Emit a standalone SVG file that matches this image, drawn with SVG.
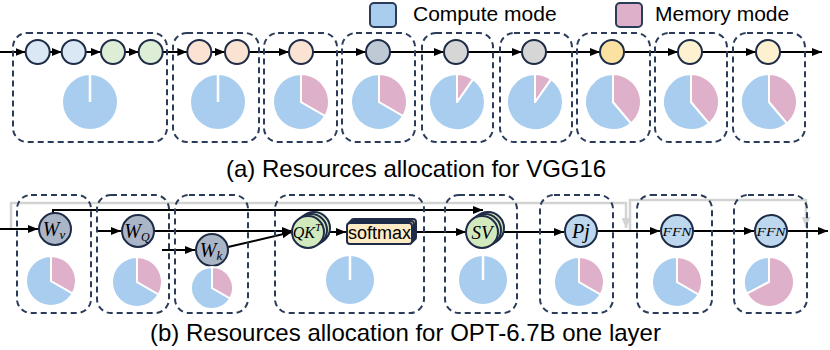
<svg xmlns="http://www.w3.org/2000/svg" xmlns:xlink="http://www.w3.org/1999/xlink" width="830" height="350" viewBox="0 0 830 350">
<style>
.box{fill:none;stroke:#2b3c5a;stroke-width:2;stroke-dasharray:6 4}
.node{stroke:#1e2c47;stroke-width:2}
.ln{fill:none;stroke:#000;stroke-width:2}
.gl{fill:none;stroke:#d3d3d3;stroke-width:2.5}
.pb{fill:#a8cdef;stroke:#fff;stroke-width:2;stroke-linejoin:round}
.pp{fill:#dfb0ca;stroke:#fff;stroke-width:2;stroke-linejoin:round}
.sans{font-family:"Liberation Sans",Arial,sans-serif}
.cap{font-size:24px}
.leg{font-size:21px}
.math{font-family:"Liberation Serif","Times New Roman",serif;font-style:italic}
.c1{fill:#dae7f5}.c2{fill:#deedd6}.c3{fill:#fae3d3}.c4{fill:#bfc9d6}.c5{fill:#d6d6d6}.c6{fill:#fbe2a0}.c7{fill:#fdf1cf}
.cw{fill:#aab5c7}.cb{fill:#bdd7ef}.cg{fill:#d2e8bd}.cy{fill:#fdebc6}
</style>
<defs>
<marker id="ah" markerUnits="userSpaceOnUse" markerWidth="10" markerHeight="8" refX="10" refY="4" orient="auto"><path d="M0,0 L10,4 L0,8 Z" fill="#000"/></marker>
<marker id="ahg" markerUnits="userSpaceOnUse" markerWidth="10" markerHeight="9" refX="10" refY="4.5" orient="auto"><path d="M0,0 L10,4.5 L0,9 Z" fill="#d3d3d3"/></marker>
<g id="pF28"><circle r="28" class="pb"/><line x1="0" y1="0" x2="0" y2="-28" stroke="#fff" stroke-width="2.5"/></g>
<g id="p120_28"><path class="pb" d="M0,0 L24.25,14 A28,28 0 1,1 0,-28 Z"/><path class="pp" d="M0,0 L0,-28 A28,28 0 0,1 24.25,14 Z"/></g>
<g id="p35_28"><path class="pb" d="M0,0 L16.06,-22.94 A28,28 0 1,1 0,-28 Z"/><path class="pp" d="M0,0 L0,-28 A28,28 0 0,1 16.06,-22.94 Z"/></g>
<g id="p140_28"><path class="pb" d="M0,0 L18,21.45 A28,28 0 1,1 0,-28 Z"/><path class="pp" d="M0,0 L0,-28 A28,28 0 0,1 18,21.45 Z"/></g>
<g id="pF25"><circle r="25" class="pb"/><line x1="0" y1="0" x2="0" y2="-25" stroke="#fff" stroke-width="2.5"/></g>
<g id="p120_25"><path class="pb" d="M0,0 L21.65,12.5 A25,25 0 1,1 0,-25 Z"/><path class="pp" d="M0,0 L0,-25 A25,25 0 0,1 21.65,12.5 Z"/></g>
<g id="p120_21"><path class="pb" d="M0,0 L18.19,10.5 A21,21 0 1,1 0,-21 Z"/><path class="pp" d="M0,0 L0,-21 A21,21 0 0,1 18.19,10.5 Z"/></g>
<g id="p242_25"><path class="pb" d="M0,0 L-22.07,11.73 A25,25 0 0,1 0,-25 Z"/><path class="pp" d="M0,0 L0,-25 A25,25 0 1,1 -22.07,11.73 Z"/></g>
</defs>

<!-- legend -->
<g id="legend">
<rect x="370" y="3" width="26" height="24" rx="4" fill="#a8cdef" stroke="#2b3c5a" stroke-width="2"/>
<text x="413" y="21" class="sans leg">Compute mode</text>
<rect x="616" y="3" width="26" height="24" rx="4" fill="#dfb0ca" stroke="#2b3c5a" stroke-width="2"/>
<text x="655" y="21" class="sans leg">Memory mode</text>
</g>

<!-- gray residual lines (b) -->
<g id="residuals">
<path class="gl" d="M11,228 L11,203 L626,203 L626,228" marker-end="url(#ahg)"/>
<path class="gl" d="M630,231 L630,200 L806,200 L806,227" marker-end="url(#ahg)"/>
</g>

<!-- connectors -->
<g id="connectors">
<!-- (a) -->
<path class="ln" d="M0,52 L25.5,52" marker-end="url(#ah)"/>
<path class="ln" d="M49.7,52 L61.7,52" marker-end="url(#ah)"/>
<path class="ln" d="M85.7,52 L101,52" marker-end="url(#ah)"/>
<path class="ln" d="M125,52 L138.7,52" marker-end="url(#ah)"/>
<path class="ln" d="M162.7,52 L187.3,52" marker-end="url(#ah)"/>
<path class="ln" d="M211.3,52 L225,52" marker-end="url(#ah)"/>
<path class="ln" d="M249,52 L289,52" marker-end="url(#ah)"/>
<path class="ln" d="M313,52 L366,52" marker-end="url(#ah)"/>
<path class="ln" d="M390,52 L444,52" marker-end="url(#ah)"/>
<path class="ln" d="M468,52 L522,52" marker-end="url(#ah)"/>
<path class="ln" d="M546,52 L600,52" marker-end="url(#ah)"/>
<path class="ln" d="M624,52 L678,52" marker-end="url(#ah)"/>
<path class="ln" d="M702,52 L756,52" marker-end="url(#ah)"/>
<path class="ln" d="M780,52 L822,52" marker-end="url(#ah)"/>
<!-- (b) -->
<path class="ln" d="M0,229 L38,229" marker-end="url(#ah)"/>
<path class="ln" d="M53,214 L53,210 L483,210" marker-end="url(#ah)"/>
<path class="ln" d="M97,231 L121,231" marker-end="url(#ah)"/>
<path class="ln" d="M154,231 L292,231" marker-end="url(#ah)"/>
<path class="ln" d="M162,250 L195,250" marker-end="url(#ah)"/>
<path class="ln" d="M228,247 L292,232" marker-end="url(#ah)"/>
<path class="ln" d="M330,232 L346,232" marker-end="url(#ah)"/>
<path class="ln" d="M416,232 L466,232" marker-end="url(#ah)"/>
<path class="ln" d="M504,232 L564,232" marker-end="url(#ah)"/>
<path class="ln" d="M597,231 L660,231" marker-end="url(#ah)"/>
<path class="ln" d="M693,231 L754,231" marker-end="url(#ah)"/>
<path class="ln" d="M787,231 L828,231" marker-end="url(#ah)"/>
</g>

<!-- (a) VGG16 -->
<g id="a1"><rect class="box" x="13" y="33" width="154" height="109" rx="14"/>
<circle class="node c1" cx="37.7" cy="52" r="12"/><circle class="node c1" cx="73.7" cy="52" r="12"/>
<circle class="node c2" cx="113" cy="52" r="12"/><circle class="node c2" cx="150.7" cy="52" r="12"/>
<use xlink:href="#pF28" x="90" y="102"/></g>
<g id="a2"><rect class="box" x="173" y="33" width="86" height="109" rx="14"/>
<circle class="node c3" cx="199.3" cy="52" r="12"/><circle class="node c3" cx="237" cy="52" r="12"/>
<use xlink:href="#pF28" x="218" y="102"/></g>
<g id="a3"><rect class="box" x="264" y="33" width="73" height="109" rx="14"/>
<circle class="node c3" cx="301" cy="52" r="12"/><use xlink:href="#p120_28" x="301" y="102"/></g>
<g id="a4"><rect class="box" x="342" y="33" width="73" height="109" rx="14"/>
<circle class="node c4" cx="378" cy="52" r="12"/><use xlink:href="#p120_28" x="379" y="102"/></g>
<g id="a5"><rect class="box" x="422" y="33" width="71" height="109" rx="14"/>
<circle class="node c5" cx="456" cy="52" r="12"/><use xlink:href="#p35_28" x="457" y="102"/></g>
<g id="a6"><rect class="box" x="500" y="33" width="72" height="109" rx="14"/>
<circle class="node c5" cx="534" cy="52" r="12"/><use xlink:href="#p35_28" x="535" y="102"/></g>
<g id="a7"><rect class="box" x="577" y="33" width="73" height="109" rx="14"/>
<circle class="node c6" cx="612" cy="52" r="12"/><use xlink:href="#p140_28" x="613" y="102"/></g>
<g id="a8"><rect class="box" x="655" y="33" width="72" height="109" rx="14"/>
<circle class="node c7" cx="690" cy="52" r="12"/><use xlink:href="#p140_28" x="691" y="102"/></g>
<g id="a9"><rect class="box" x="733" y="33" width="72" height="109" rx="14"/>
<circle class="node c7" cx="768" cy="52" r="12"/><use xlink:href="#p140_28" x="769" y="102"/></g>
<text id="capA" x="226" y="177" class="sans cap">(a) Resources allocation for VGG16</text>

<!-- (b) OPT -->
<g id="b1"><rect class="box" x="17" y="195" width="74" height="118" rx="14"/>
<circle class="node cw" cx="55" cy="229" r="16"/>
<text x="54" y="236" class="math" font-size="20" text-anchor="middle">W<tspan font-size="13" dy="3">v</tspan></text>
<use xlink:href="#p120_25" x="51" y="281"/></g>
<g id="b2"><rect class="box" x="97" y="195" width="72" height="118" rx="14"/>
<circle class="node cw" cx="138" cy="231" r="16"/>
<text x="137" y="238" class="math" font-size="20" text-anchor="middle">W<tspan font-size="12" dy="3">Q</tspan></text>
<use xlink:href="#p120_25" x="137" y="282"/></g>
<g id="b3"><rect class="box" x="175" y="195" width="73" height="118" rx="14"/>
<circle class="node cw" cx="212" cy="250" r="16"/>
<text x="211" y="257" class="math" font-size="20" text-anchor="middle">W<tspan font-size="13" dy="3">k</tspan></text>
<use xlink:href="#p120_21" x="212" y="288"/></g>
<g id="b4"><rect class="box" x="275" y="195" width="149" height="118" rx="14"/>
<circle class="node cg" cx="314" cy="228" r="16"/><circle class="node cg" cx="311" cy="230" r="16"/><circle class="node cg" cx="308" cy="232" r="16"/>
<text x="307" y="238" class="math" font-size="16" text-anchor="middle">QK<tspan font-size="11" dy="-7">T</tspan></text>
<rect class="node cy" x="351" y="219" width="65" height="21" rx="3"/><rect class="node cy" x="349" y="221" width="65" height="21" rx="3"/><rect class="node cy" x="347" y="223" width="65" height="21" rx="3"/>
<text x="379.5" y="239" class="sans" font-size="18" text-anchor="middle">softmax</text>
<use xlink:href="#pF25" x="350" y="280"/></g>
<g id="b5"><rect class="box" x="445" y="195" width="72" height="118" rx="14"/>
<circle class="node cg" cx="488" cy="228" r="16"/><circle class="node cg" cx="485" cy="230" r="16"/><circle class="node cg" cx="482" cy="232" r="16"/>
<text x="482" y="239" class="math" font-size="19" text-anchor="middle">SV</text>
<use xlink:href="#pF25" x="483" y="280"/></g>
<g id="b6"><rect class="box" x="540" y="195" width="73" height="118" rx="14"/>
<circle class="node cb" cx="581" cy="231" r="16"/>
<text x="581" y="238" class="math" font-size="20" text-anchor="middle">Pj</text>
<use xlink:href="#p120_25" x="579" y="282"/></g>
<g id="b7"><rect class="box" x="637" y="195" width="75" height="118" rx="14"/>
<circle class="node cb" cx="677" cy="231" r="16"/>
<text x="677" y="236" class="math" font-size="13" text-anchor="middle" textLength="29" lengthAdjust="spacingAndGlyphs">FFN</text>
<use xlink:href="#p120_25" x="677" y="282"/></g>
<g id="b8"><rect class="box" x="734" y="195" width="73" height="118" rx="14"/>
<circle class="node cb" cx="771" cy="231" r="16"/>
<text x="771" y="236" class="math" font-size="13" text-anchor="middle" textLength="29" lengthAdjust="spacingAndGlyphs">FFN</text>
<use xlink:href="#p242_25" x="769" y="282"/></g>
<text id="capB" x="150" y="341" class="sans cap">(b) Resources allocation for OPT-6.7B one layer</text>
</svg>
